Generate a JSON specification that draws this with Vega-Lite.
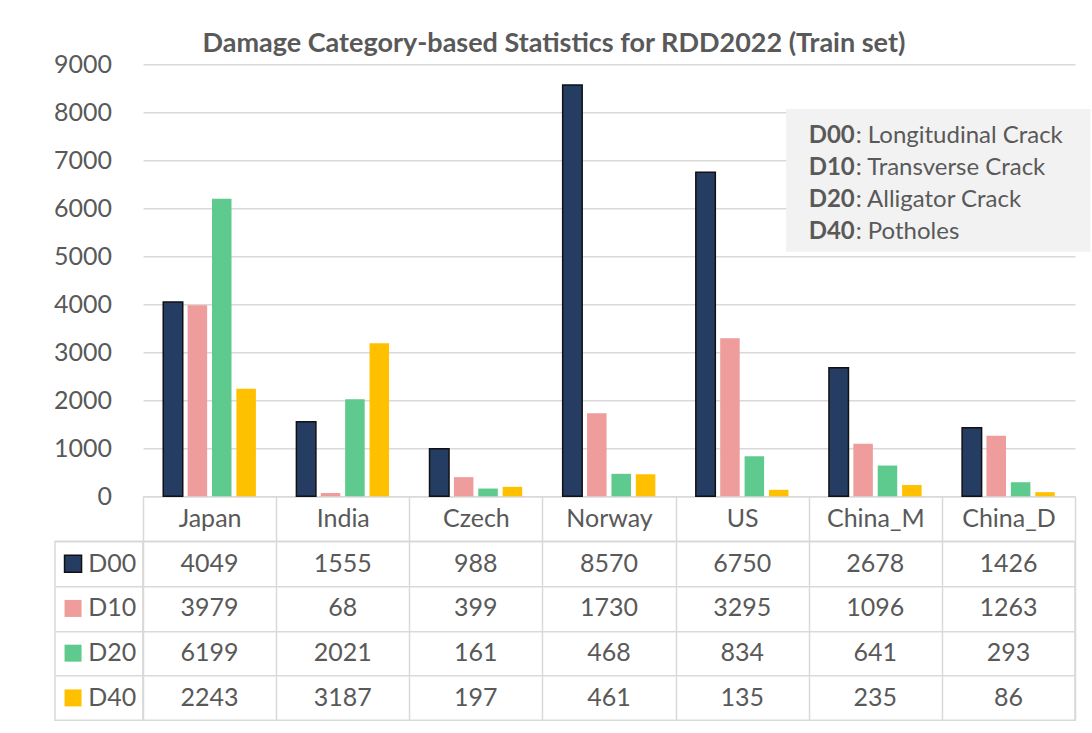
{
  "$schema": "https://vega.github.io/schema/vega-lite/v6.json",
  "padding": {"left": 53, "top": 30.3, "right": 0, "bottom": 0},
  "autosize": {"type": "pad"},
  "background": "white",
  "config": {"font": "Lato", "view": {"stroke": null}},
  "datasets": {
    "counts": [
      {"country": "Japan", "series": "D00", "value": 4049},
      {"country": "Japan", "series": "D10", "value": 3979},
      {"country": "Japan", "series": "D20", "value": 6199},
      {"country": "Japan", "series": "D40", "value": 2243},
      {"country": "India", "series": "D00", "value": 1555},
      {"country": "India", "series": "D10", "value": 68},
      {"country": "India", "series": "D20", "value": 2021},
      {"country": "India", "series": "D40", "value": 3187},
      {"country": "Czech", "series": "D00", "value": 988},
      {"country": "Czech", "series": "D10", "value": 399},
      {"country": "Czech", "series": "D20", "value": 161},
      {"country": "Czech", "series": "D40", "value": 197},
      {"country": "Norway", "series": "D00", "value": 8570},
      {"country": "Norway", "series": "D10", "value": 1730},
      {"country": "Norway", "series": "D20", "value": 468},
      {"country": "Norway", "series": "D40", "value": 461},
      {"country": "US", "series": "D00", "value": 6750},
      {"country": "US", "series": "D10", "value": 3295},
      {"country": "US", "series": "D20", "value": 834},
      {"country": "US", "series": "D40", "value": 135},
      {"country": "China_M", "series": "D00", "value": 2678},
      {"country": "China_M", "series": "D10", "value": 1096},
      {"country": "China_M", "series": "D20", "value": 641},
      {"country": "China_M", "series": "D40", "value": 235},
      {"country": "China_D", "series": "D00", "value": 1426},
      {"country": "China_D", "series": "D10", "value": 1263},
      {"country": "China_D", "series": "D20", "value": 293},
      {"country": "China_D", "series": "D40", "value": 86}
    ],
    "codes": [
      {"series": "D00", "desc": ": Longitudinal Crack"},
      {"series": "D10", "desc": ": Transverse Crack"},
      {"series": "D20", "desc": ": Alligator Crack"},
      {"series": "D40", "desc": ": Potholes"}
    ]
  },
  "title": {"text": "Damage Category-based Statistics for RDD2022 (Train set)", "fontSize": 27, "fontWeight": "bold", "color": "#595959", "anchor": "middle", "offset": -6, "dx": -18},
  "columns": 2,
  "spacing": {"row": 45, "column": 0},
  "bounds": "flush",
  "concat": [
    {
      "width": 88, "height": 432,
      "data": {"values": []},
      "mark": "text",
      "encoding": {}
    },
    {
      "width": 932, "height": 432,
      "layer": [
        {
          "data": {"name": "counts"},
          "mark": {"type": "bar", "strokeWidth": 1.5},
          "encoding": {
            "x": {"field": "country", "type": "nominal", "title": null,
              "sort": ["Japan", "India", "Czech", "Norway", "US", "China_M", "China_D"],
              "scale": {"paddingInner": 0, "paddingOuter": 0},
              "axis": {"title": null, "labelFontSize": 25, "labelColor": "#595959", "labelAngle": 0, "labelBaseline": "middle", "labelPadding": -22.7, "tickBand": "extent", "tickSize": 45, "tickColor": "#D9D9D9", "tickWidth": 1.5, "domainColor": "#D9D9D9", "domainWidth": 1.5, "grid": false}},
            "y": {"field": "value", "type": "quantitative", "title": null,
              "scale": {"domain": [0, 9000], "nice": false},
              "axis": {"title": null, "format": "d", "values": [0, 1000, 2000, 3000, 4000, 5000, 6000, 7000, 8000, 9000], "labelFontSize": 25, "labelColor": "#595959", "labelPadding": 31.5, "ticks": false, "domain": false, "grid": true, "gridColor": "#D9D9D9", "gridWidth": 1.5}},
            "xOffset": {"field": "series", "type": "nominal", "sort": ["D00", "D10", "D20", "D40"], "scale": {"paddingInner": 0.2, "paddingOuter": 0.83}},
            "color": {"field": "series", "type": "nominal", "scale": {"domain": ["D00", "D10", "D20", "D40"], "range": ["#263D63", "#EE9C9C", "#5FCA8D", "#FFC000"]}, "legend": null},
            "stroke": {"condition": {"test": "datum.series === 'D00'", "value": "#111111"}, "value": null}
          }
        },
        {
          "data": {"name": "codes"},
          "transform": [{"filter": "datum.series === 'D00'"}],
          "mark": {"type": "rect", "color": "#F2F2F2"},
          "encoding": {
            "x": {"datum": "US", "type": "nominal", "bandPosition": 0.83, "title": null},
            "x2": {"datum": "China_D", "bandPosition": 1.116},
            "y": {"datum": 8070, "type": "quantitative", "title": null},
            "y2": {"datum": 5094}
          }
        },
        {
          "data": {"name": "codes"},
          "transform": [{"filter": "datum.series === 'D00'"}],
          "encoding": {"x": {"datum": "China_M", "type": "nominal", "bandPosition": 0, "title": null}, "y": {"datum": 7508, "type": "quantitative", "title": null}},
          "layer": [
            {"mark": {"type": "text", "align": "left", "baseline": "middle", "fontSize": 24, "fontWeight": "bold", "color": "#595959"}, "encoding": {"text": {"field": "series"}}},
            {"mark": {"type": "text", "align": "left", "baseline": "middle", "fontSize": 24, "color": "#595959", "dx": 47}, "encoding": {"text": {"field": "desc"}}}
          ]
        },
        {
          "data": {"name": "codes"},
          "transform": [{"filter": "datum.series === 'D10'"}],
          "encoding": {"x": {"datum": "China_M", "type": "nominal", "bandPosition": 0, "title": null}, "y": {"datum": 6842, "type": "quantitative", "title": null}},
          "layer": [
            {"mark": {"type": "text", "align": "left", "baseline": "middle", "fontSize": 24, "fontWeight": "bold", "color": "#595959"}, "encoding": {"text": {"field": "series"}}},
            {"mark": {"type": "text", "align": "left", "baseline": "middle", "fontSize": 24, "color": "#595959", "dx": 47}, "encoding": {"text": {"field": "desc"}}}
          ]
        },
        {
          "data": {"name": "codes"},
          "transform": [{"filter": "datum.series === 'D20'"}],
          "encoding": {"x": {"datum": "China_M", "type": "nominal", "bandPosition": 0, "title": null}, "y": {"datum": 6166, "type": "quantitative", "title": null}},
          "layer": [
            {"mark": {"type": "text", "align": "left", "baseline": "middle", "fontSize": 24, "fontWeight": "bold", "color": "#595959"}, "encoding": {"text": {"field": "series"}}},
            {"mark": {"type": "text", "align": "left", "baseline": "middle", "fontSize": 24, "color": "#595959", "dx": 47}, "encoding": {"text": {"field": "desc"}}}
          ]
        },
        {
          "data": {"name": "codes"},
          "transform": [{"filter": "datum.series === 'D40'"}],
          "encoding": {"x": {"datum": "China_M", "type": "nominal", "bandPosition": 0, "title": null}, "y": {"datum": 5510, "type": "quantitative", "title": null}},
          "layer": [
            {"mark": {"type": "text", "align": "left", "baseline": "middle", "fontSize": 24, "fontWeight": "bold", "color": "#595959"}, "encoding": {"text": {"field": "series"}}},
            {"mark": {"type": "text", "align": "left", "baseline": "middle", "fontSize": 24, "color": "#595959", "dx": 47}, "encoding": {"text": {"field": "desc"}}}
          ]
        }
      ]
    },
    {
      "width": 88, "height": 179,
      "data": {"name": "codes"},
      "view": {"stroke": "#D9D9D9", "strokeWidth": 1.5},
      "encoding": {
        "y": {"field": "series", "type": "nominal", "sort": ["D00", "D10", "D20", "D40"], "scale": {"type": "band", "paddingInner": 0, "paddingOuter": 0},
          "axis": {"grid": true, "tickBand": "extent", "labels": false, "ticks": false, "domain": false, "title": null, "gridColor": "#D9D9D9", "gridWidth": 1.5}}
      },
      "layer": [
        {
          "mark": {"type": "point", "shape": "square", "filled": true, "size": 289, "opacity": 1, "strokeWidth": 1.5},
          "encoding": {
            "x": {"datum": "key", "type": "nominal", "bandPosition": 0.41, "scale": {"type": "band", "domain": ["key", "label"], "paddingInner": 0, "paddingOuter": 0}, "axis": null},
            "fill": {"field": "series", "type": "nominal", "scale": {"domain": ["D00", "D10", "D20", "D40"], "range": ["#263D63", "#EE9C9C", "#5FCA8D", "#FFC000"]}, "legend": null},
            "stroke": {"condition": {"test": "datum.series === 'D00'", "value": "#111111"}, "value": null}
          }
        },
        {
          "mark": {"type": "text", "fontSize": 25, "color": "#595959", "baseline": "middle", "align": "center"},
          "encoding": {
            "x": {"datum": "label", "type": "nominal", "bandPosition": 0.3},
            "text": {"field": "series", "type": "nominal"}
          }
        }
      ]
    },
    {
      "width": 932, "height": 179,
      "data": {"name": "counts"},
      "view": {"stroke": "#D9D9D9", "strokeWidth": 1.5},
      "mark": {"type": "text", "fontSize": 25, "color": "#595959", "baseline": "middle"},
      "encoding": {
        "x": {"field": "country", "type": "nominal", "sort": ["Japan", "India", "Czech", "Norway", "US", "China_M", "China_D"], "scale": {"type": "band", "paddingInner": 0, "paddingOuter": 0},
          "axis": {"grid": true, "tickBand": "extent", "labels": false, "ticks": false, "domain": false, "title": null, "gridColor": "#D9D9D9", "gridWidth": 1.5}},
        "y": {"field": "series", "type": "nominal", "sort": ["D00", "D10", "D20", "D40"], "scale": {"type": "band", "paddingInner": 0, "paddingOuter": 0},
          "axis": {"grid": true, "tickBand": "extent", "labels": false, "ticks": false, "domain": false, "title": null, "gridColor": "#D9D9D9", "gridWidth": 1.5}},
        "text": {"field": "value", "type": "nominal"}
      }
    }
  ]
}
